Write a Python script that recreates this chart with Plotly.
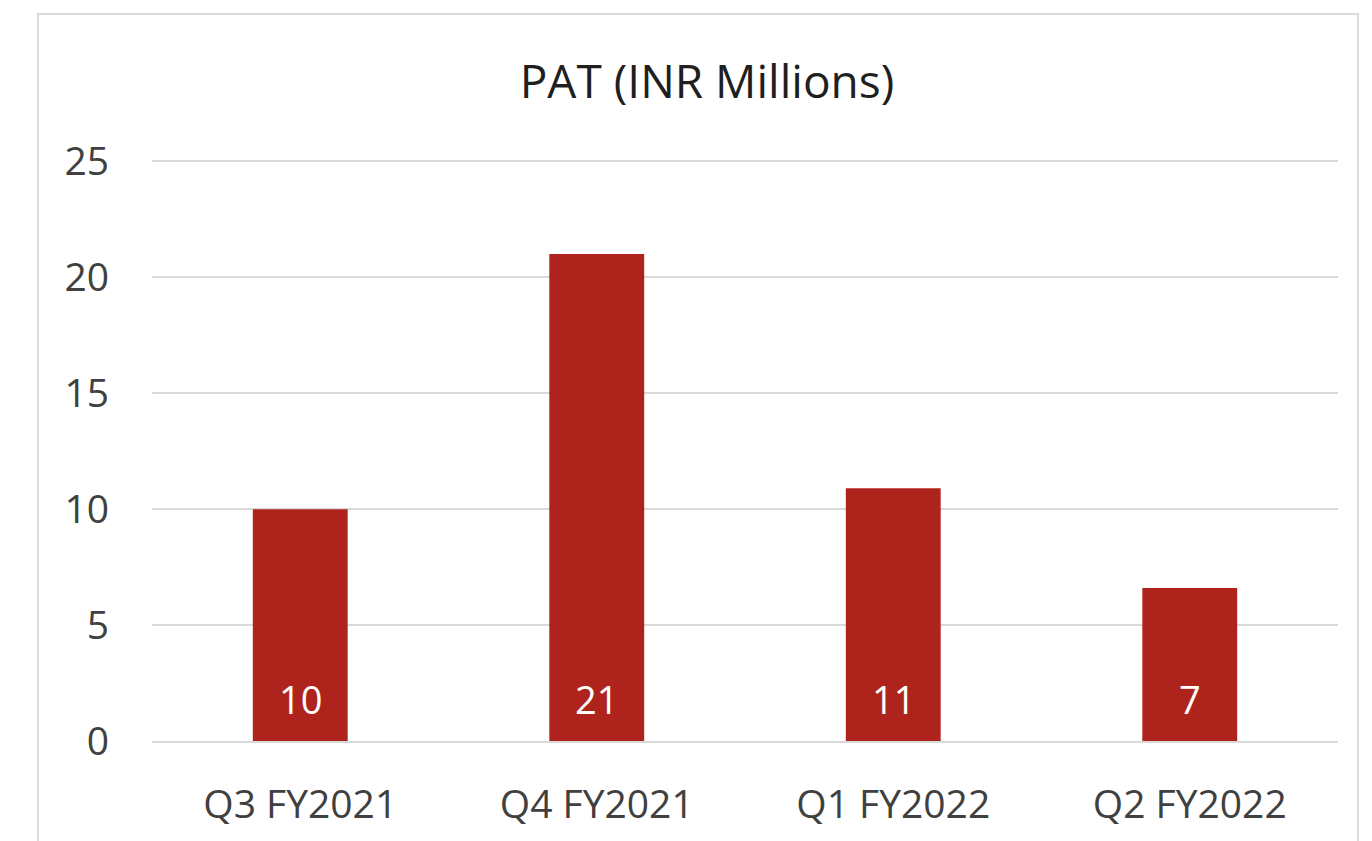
import plotly.graph_objects as go

# PAT by quarter, INR millions
quarters = ["Q3 FY2021", "Q4 FY2021", "Q1 FY2022", "Q2 FY2022"]
pat = [10.0, 21.0, 10.9, 6.6]
y_ticks = [0, 5, 10, 15, 20, 25]

# page is drawn with an 8px body offset, so work in figure px
OFF = 8
W, H = 1372, 841
ytop = 25.1
L, R = 152 - OFF, 1372 - 1338 + OFF
T, B = round(741 - 580 * ytop / 25) - OFF, 841 - (741 - OFF)
pw, ph = W - L - R, H - T - B

fig = go.Figure(go.Bar(
    x=quarters, y=pat,
    marker=dict(color="#AE241C", line=dict(width=0)),
    width=0.32,
    hoverinfo="skip",
))

# value labels sitting near the bar base
for q, v in zip(quarters, pat):
    fig.add_annotation(x=q, y=0, text=f"{v:.0f}", showarrow=False,
                       yanchor="middle", yshift=42,
                       font=dict(color="white", size=38, family="Open Sans"))

# outer chart border
fig.add_shape(type="rect", xref="paper", yref="paper",
              x0=(38 - 152) / pw, x1=(1358 - 152) / pw,
              y0=-0.5, y1=(741 - 14) / ph,
              line=dict(color="#d9d9d9", width=2), layer="below")

fig.update_layout(
    width=W, height=H,
    margin=dict(l=L, r=R, t=T, b=B),
    paper_bgcolor="white", plot_bgcolor="white",
    font=dict(family="Open Sans", color="#404040", size=39),
    title=dict(text="PAT (INR Millions)", x=(707 - OFF) / W, xanchor="center",
               y=1 - (82 - OFF) / H, yanchor="middle", yref="container",
               font=dict(size=46, color="#1f1f1f")),
    showlegend=False,
)
fig.update_yaxes(range=[0, ytop], tickvals=y_ticks, showgrid=True,
                 gridcolor="#d9d9d9", gridwidth=2, zeroline=False,
                 showline=False, ticks="", ticklabelstandoff=42)
fig.update_xaxes(showgrid=False, showline=True, linecolor="#d9d9d9",
                 linewidth=2, ticks="", ticklabelstandoff=28)

fig.write_html("out.html")
